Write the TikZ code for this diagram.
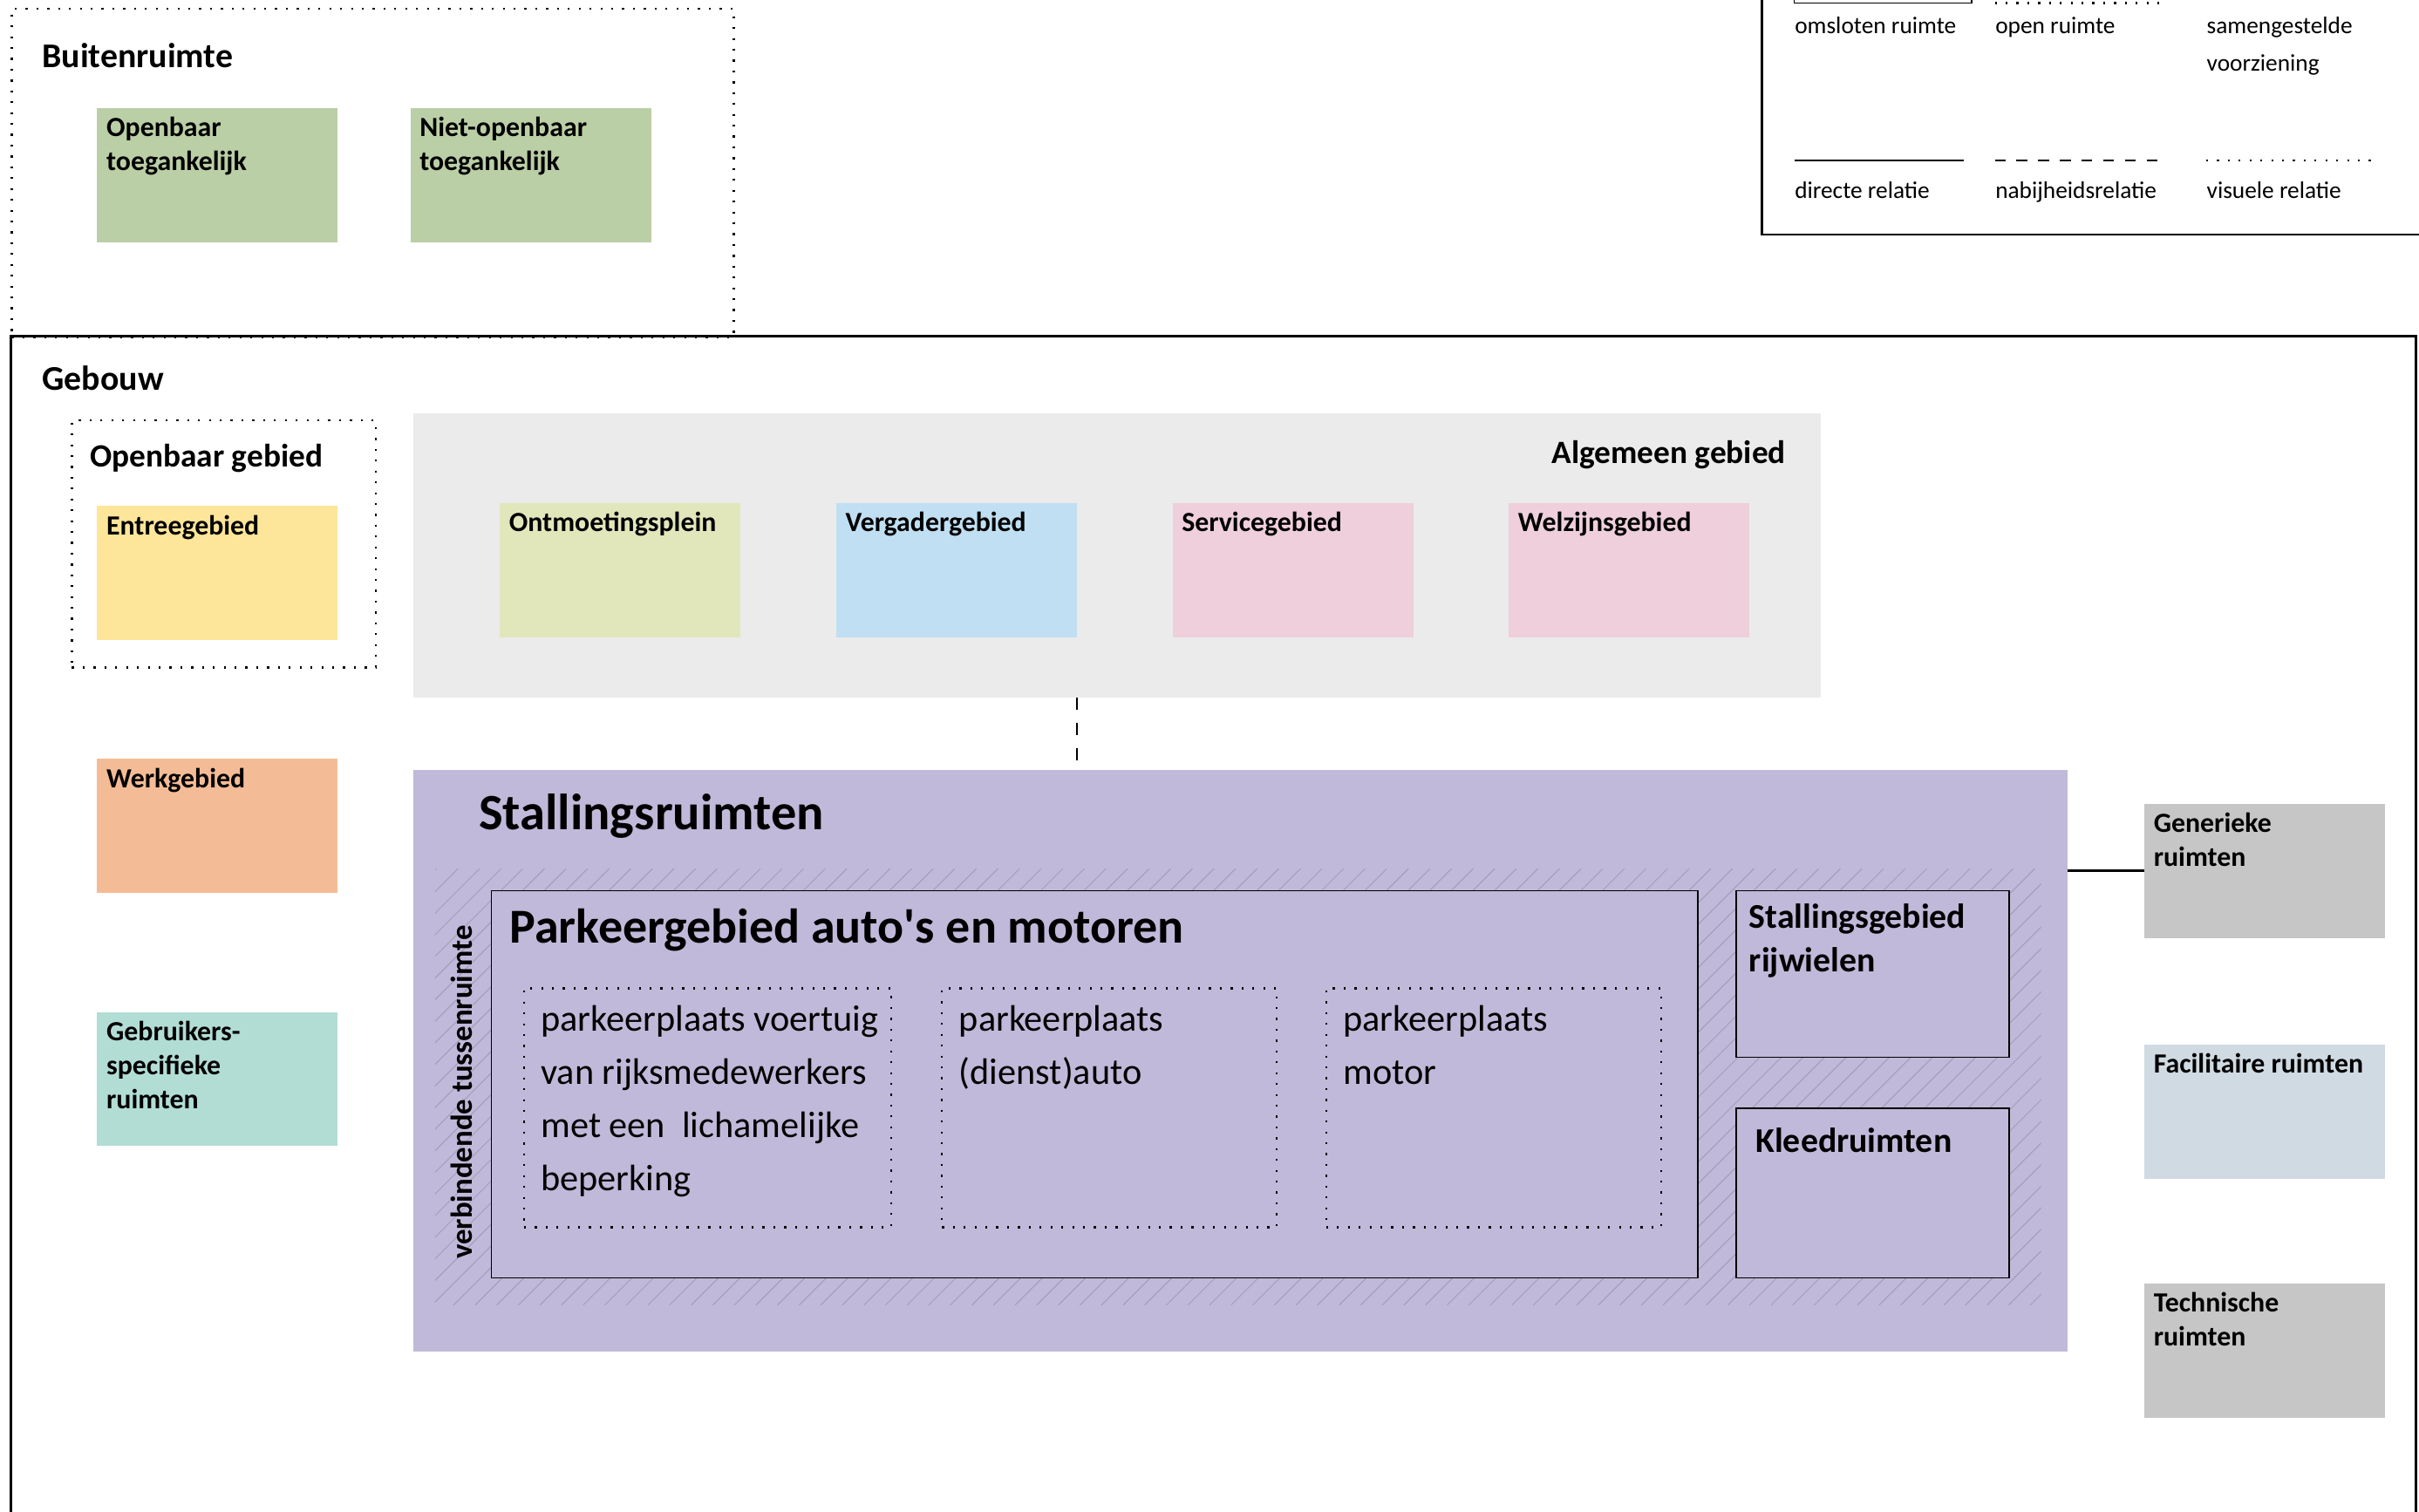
\documentclass[tikz,border=0pt]{standalone}
\usepackage{fontspec}
\setmainfont{Carlito}
\usetikzlibrary{positioning, calc}
\definecolor{cgreen}{HTML}{BBCFA6}
\definecolor{cyellow}{HTML}{FDE59A}
\definecolor{clight}{HTML}{EBEBEB}
\definecolor{clime}{HTML}{E2E7BB}
\definecolor{cblue}{HTML}{C0DFF2}
\definecolor{cpink}{HTML}{EECFDB}
\definecolor{corange}{HTML}{F4BC96}
\definecolor{cteal}{HTML}{B2DDD5}
\definecolor{cpurple}{HTML}{C1B9D9}
\definecolor{chatch}{HTML}{A39DB8}
\definecolor{cgrey}{HTML}{C6C6C6}
\definecolor{csteel}{HTML}{D0DAE3}
\tikzset{
  every picture/.style={line width=0.6pt},
  room/.style={fill=#1, minimum width=3.9cm, minimum height=2.175cm, anchor=north west, inner sep=0pt, outer sep=0pt},
  roomtext/.style={anchor=north west, align=left, inner sep=4pt, font=\bfseries\fontsize{12.8}{15.6}\selectfont},
  title/.style={anchor=west, inner sep=0pt, font=\bfseries\fontsize{15}{18}\selectfont},
  bigtitle/.style={anchor=west, inner sep=0pt, font=\bfseries\fontsize{23.5}{27}\selectfont},
  boxtitle/.style={anchor=north west, align=left, inner sep=6pt, font=\bfseries\fontsize{16}{20}\selectfont},
  slottext/.style={anchor=north west, align=left, inner sep=8pt, font=\fontsize{17}{24.5}\selectfont},
  openzone/.style={draw, line width=0.9pt, dash pattern=on 0.9pt off 4.1pt, anchor=north west, inner sep=0pt},
  enclosed/.style={draw, fill=cpurple, line width=0.6pt, anchor=north west, inner sep=0pt},
  hatchline/.style={draw=chatch, line width=0.4pt},
  relation/.style={line width=0.9pt, dash pattern=on 5.7pt off 6pt},
  legendtext/.style={anchor=north west, align=left, inner sep=0pt, font=\fontsize{11}{17}\selectfont},
}

\begin{document}
\begin{tikzpicture}
  \useasboundingbox (0,0) rectangle (39.2,-24.5);
  % legend
  \draw[line width=1pt] (28.55,0) -- (28.55,-3.8) -- (39.2,-3.8);
  \draw (29.075,0) -- (29.075,-0.05) -- (31.95,-0.05) -- (31.95,0);
  \draw[line width=0.9pt, dash pattern=on 0.9pt off 4.1pt] (32.325,-0.05) -- (35.125,-0.05);
  \draw[line width=1pt] (29.075,-2.6) -- (31.825,-2.6);
  \draw[line width=1pt, dash pattern=on 5pt off 5pt] (32.325,-2.6) -- (35.075,-2.6);
  \draw[line width=0.9pt, dash pattern=on 0.9pt off 4.1pt] (35.75,-2.6) -- (38.55,-2.6);
  \foreach \t/\x [count=\i] in {omsloten ruimte/29.075, open ruimte/32.325, samengestelde\\voorziening/35.75}
    \node[legendtext] (lgtop\i) at (\x,-0.27) {\t};
  \foreach \t/\x [count=\i] in {directe relatie/29.075, nabijheidsrelatie/32.325, visuele relatie/35.75}
    \node[legendtext] (lgbot\i) at (\x,-2.93) {\t};

  % buitenruimte
  \node[openzone, minimum width=11.7cm, minimum height=5.325cm] (buiten) at (0.175,-0.125) {};
  \node[title, font=\bfseries\fontsize{16}{19}\selectfont] (buitentitle) at (0.675,-0.9) {Buitenruimte};
  \node[room=cgreen, label={[roomtext]north west:Openbaar\\toegankelijk}] (openbaar) at (1.575,-1.75) {};
  \node[room=cgreen, label={[roomtext]north west:Niet-openbaar\\toegankelijk}] (nietopen) at (6.65,-1.75) {};

  % gebouw
  \draw[line width=1pt] (0.175,-24.5) |- (39.15,-5.45) -- (39.15,-24.5);
  \node[title, font=\bfseries\fontsize{16}{19}\selectfont] (gebouwtitle) at (0.675,-6.125) {Gebouw};

  \node[openzone, minimum width=4.925cm, minimum height=4cm] (publiek) at (1.15,-6.8) {};
  \node[title] (publiektitle) at (1.45,-7.425) {Openbaar gebied};
  \node[room=cyellow, label={[roomtext]north west:Entreegebied}] (entree) at (1.575,-8.2) {};
  \node[room=corange, label={[roomtext]north west:Werkgebied}] (werk) at (1.575,-12.3) {};
  \node[room=cteal, label={[roomtext]north west:Gebruikers-\\specifieke\\ruimten}] (gebruiker) at (1.575,-16.4) {};

  \node[room=clight, minimum width=22.8cm, minimum height=4.6cm] (algemeen) at (6.7,-6.7) {};
  \node[title, anchor=east] (algtitle) at (28.95,-7.375) {Algemeen gebied};
  \foreach \n/\c/\t [count=\i from 0] in {ontmoet/clime/Ontmoetingsplein, vergader/cblue/Vergadergebied, service/cpink/Servicegebied, welzijn/cpink/Welzijnsgebied}
    \node[room=\c, label={[roomtext]north west:\t}] (\n) at ({8.1+5.45*\i},-8.15) {};

  % stallingsruimten
  \node[room=cpurple, minimum width=26.8cm, minimum height=9.425cm] (stalling) at (6.7,-12.475) {};
  \node[bigtitle] (staltitle) at (7.75,-13.225) {Stallingsruimten};
  \begin{scope}
    \clip (7.05,-14.075) rectangle (33.075,-21.15);
    \foreach \i in {0,...,95}
      \draw[hatchline] ({0.35*\i},-21.15) -- ++(7.075,7.075);
  \end{scope}
  \node[enclosed, minimum width=19.55cm, minimum height=6.275cm,
        label={[bigtitle, anchor=north west, inner sep=8.5pt, font=\bfseries\fontsize{22.5}{27}\selectfont]north west:Parkeergebied auto\textquotesingle s en motoren}] (parkeer) at (7.95,-14.425) {};
  \foreach \n/\x/\w/\t in {voertuig/8.475/5.95/{parkeerplaats voertuig\\van rijksmedewerkers\\met een\ \ lichamelijke\\beperking},
                           dienst/15.25/5.425/{parkeerplaats\\(dienst)auto}, motor/21.475/5.425/{parkeerplaats\\motor}}
    \node[openzone, minimum width=\w cm, minimum height=3.875cm, label={[slottext]north west:\t}] (\n) at (\x,-16) {};
  \node[enclosed, minimum width=4.425cm, minimum height=2.7cm, label={[boxtitle]north west:Stallingsgebied\\rijwielen}] (fiets) at (28.125,-14.425) {};
  \node[enclosed, minimum width=4.425cm, minimum height=2.75cm, label={[boxtitle, inner sep=9pt]north west:Kleedruimten}] (kleed) at (28.125,-17.95) {};
  \node[rotate=90, inner sep=0pt, font=\bfseries\fontsize{14}{16}\selectfont] (tussen) at (7.475,-17.7) {verbindende tussenruimte};

  % rechts
  \foreach \n/\c/\t/\y in {generiek/cgrey/Generieke\\ruimten/-13.025, facilitair/csteel/Facilitaire ruimten/-16.925, technisch/cgrey/Technische\\ruimten/-20.8}
    \node[room=\c, label={[roomtext]north west:\t}] (\n) at (34.75,\y) {};

  \draw[relation] (vergader.south east |- algemeen.south) -- (vergader.south east |- stalling.north);
  \draw[line width=1pt] (stalling.east |- generiek.west) -- (generiek.west);
\end{tikzpicture}
\end{document}
